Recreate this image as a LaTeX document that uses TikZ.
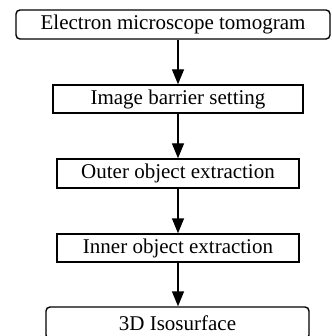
\documentclass[tikz,border=0pt]{standalone}
\usepackage{fontspec}
\setmainfont{Liberation Serif}
\usetikzlibrary{arrows.meta}
\begin{document}
\begin{tikzpicture}[x=1pt,y=-1pt,
  box/.style={draw=black,line width=1.4pt,inner sep=0pt,font=\fontsize{21}{24}\selectfont,text=black},
  rbox/.style={box,rounded corners=4pt},
  flow/.style={line width=1.4pt,-{Triangle[width=12pt,length=15pt]}}]
\useasboundingbox (0,0) rectangle (331,336);
\node[rbox,minimum width=314pt,minimum height=29pt] (tomo) at (173,24.5) {Electron microscope tomogram};
\node[box,minimum width=250pt,minimum height=28pt] (barrier) at (178,99) {Image barrier setting};
\node[box,minimum width=242pt,minimum height=29pt] (outer) at (178,173.5) {Outer object extraction};
\node[box,minimum width=242pt,minimum height=28pt] (inner) at (178,248) {Inner object extraction};
\node[rbox,minimum width=263pt,minimum height=32pt,text depth=0pt] (iso) at (177.5,323) {3D Isosurface};
\draw[flow] (tomo.south -| barrier.north) -- (barrier.north);
\draw[flow] (barrier.south) -- (outer.north);
\draw[flow] (outer.south) -- (inner.north);
\draw[flow] (inner.south) -- (inner.south |- iso.north);
\end{tikzpicture}
\end{document}
